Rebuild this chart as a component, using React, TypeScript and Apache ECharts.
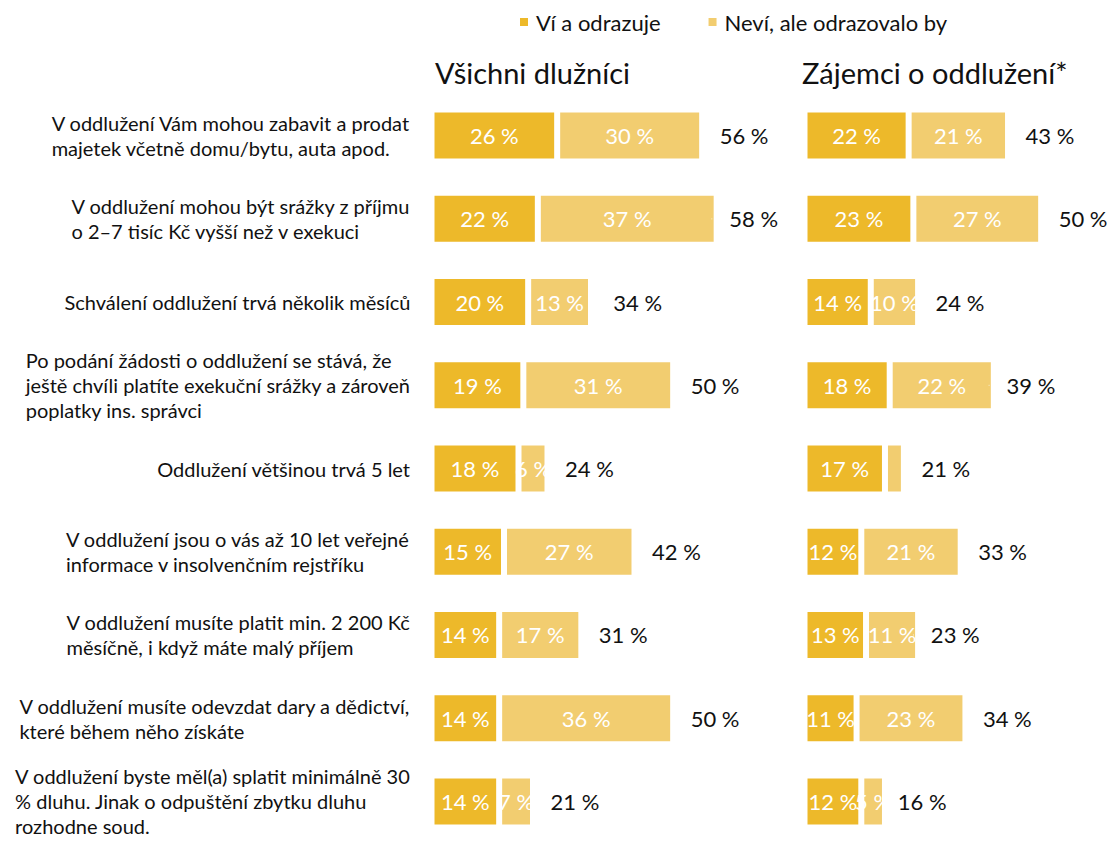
import React, { useEffect, useRef } from "react";
import * as echarts from "echarts";

const categories = [
  "V oddlužení Vám mohou zabavit a prodat\nmajetek včetně domu/bytu, auta apod.",
  "V oddlužení mohou být srážky z příjmu\no 2–7 tisíc Kč vyšší než v exekuci",
  "Schválení oddlužení trvá několik měsíců",
  "Po podání žádosti o oddlužení se stává, že\nještě chvíli platíte exekuční srážky a zároveň\npoplatky ins. správci",
  "Oddlužení většinou trvá 5 let",
  "V oddlužení jsou o vás až 10 let veřejné\ninformace v insolvenčním rejstříku",
  "V oddlužení musíte platit min. 2 200 Kč\nměsíčně, i když máte malý příjem",
  "V oddlužení musíte odevzdat dary a dědictví,\nkteré během něho získáte",
  "V oddlužení byste měl(a) splatit minimálně 30\n% dluhu. Jinak o odpuštění zbytku dluhu\nrozhodne soud.",
];

const seriesNames = ["Ví a odrazuje", "Neví, ale odrazovalo by"];
const panelTitles = ["Všichni dlužníci", "Zájemci o oddlužení*"];

const allKnow = [26, 22, 20, 19, 18, 15, 14, 14, 14];
const allWould = [30, 37, 13, 31, 6, 27, 17, 36, 7];
const allTotal = [56, 58, 34, 50, 24, 42, 31, 50, 21];

const intKnow = [22, 23, 14, 18, 17, 12, 13, 11, 12];
const intWould = [21, 27, 10, 22, 4, 21, 11, 23, 5];
const intTotal = [43, 50, 24, 39, 21, 33, 23, 34, 16];

const DARK = "#EDB92A";
const LIGHT = "#F2CD70";
const TEXT = "#111111";
const FONT = "Lato, 'Noto Sans', sans-serif";

export default function App() {
  const ref = useRef<HTMLDivElement>(null);

  useEffect(() => {
    if (!ref.current) return;
    const chart = echarts.init(ref.current, undefined, { renderer: "svg" });

    const barLabel = {
      show: true,
      position: "inside",
      color: "#FFFFFF",
      fontSize: 22,
      fontFamily: FONT,
      formatter: (p: any) => (p.value < 5 ? "" : p.value + " %"),
    };

    const barSeries = (name: string, data: number[], color: string, idx: number) => ({
      type: "bar",
      name,
      stack: "s" + idx,
      xAxisIndex: idx,
      yAxisIndex: idx,
      data,
      barWidth: 52,
      itemStyle: { color, borderColor: "#FFFFFF", borderWidth: 3 },
      label: barLabel,
      emphasis: { disabled: true },
    });

    const totalSeries = (data: number[], idx: number) => ({
      type: "scatter",
      xAxisIndex: idx,
      yAxisIndex: idx,
      data: data.map((v, i) => [v, i]),
      symbolSize: 1,
      itemStyle: { color: "#FFFFFF" },
      label: {
        show: true,
        position: "right",
        distance: 17,
        color: TEXT,
        opacity: 1,
        fontSize: 22,
        fontFamily: FONT,
        formatter: (p: any) => p.value[0] + " %",
      },
      emphasis: { disabled: true },
      silent: true,
    });

    const yAxisBase = {
      type: "category",
      data: categories,
      inverse: true,
      axisLine: { show: false },
      axisTick: { show: false },
      splitLine: { show: false },
    };

    const option: any = {
      animation: false,
      textStyle: { fontFamily: FONT },
      title: [
        {
          text: panelTitles[0],
          left: 430,
          top: 53,
          textStyle: { fontSize: 29, fontWeight: "normal", color: TEXT, fontFamily: FONT },
        },
        {
          text: panelTitles[1],
          left: 797,
          top: 53,
          textStyle: { fontSize: 29, fontWeight: "normal", color: TEXT, fontFamily: FONT },
        },
      ],
      legend: {
        data: seriesNames,
        left: 513,
        top: 6,
        icon: "rect",
        itemWidth: 10,
        itemHeight: 10,
        itemGap: 46,
        textStyle: { fontSize: 22, color: TEXT, fontFamily: FONT, padding: [0, 0, 0, 2] },
        selectedMode: false,
      },
      grid: [
        { left: 431.5, top: 94, width: 290, height: 756 },
        { left: 804.5, top: 94, width: 284, height: 756 },
      ],
      xAxis: [
        { type: "value", gridIndex: 0, min: 0, max: 60, show: false },
        { type: "value", gridIndex: 1, min: 0, max: 60, show: false },
      ],
      yAxis: [
        {
          ...yAxisBase,
          gridIndex: 0,
          axisLabel: {
            interval: 0,
            margin: 21,
            align: "right",
            formatter: (v: string) => "{a|" + v + "}",
            rich: {
              a: {
                align: "left",
                fontSize: 20,
                lineHeight: 25,
                color: TEXT,
                fontFamily: FONT,
              },
            },
          },
        },
        {
          ...yAxisBase,
          gridIndex: 1,
          axisLabel: { show: false },
        },
      ],
      series: [
        barSeries(seriesNames[0], allKnow, DARK, 0),
        barSeries(seriesNames[1], allWould, LIGHT, 0),
        totalSeries(allTotal, 0),
        barSeries(seriesNames[0], intKnow, DARK, 1),
        barSeries(seriesNames[1], intWould, LIGHT, 1),
        totalSeries(intTotal, 1),
      ],
    };

    chart.setOption(option);
    return () => chart.dispose();
  }, []);

  return (
    <div
      ref={ref}
      style={{ position: "absolute", left: 0, top: 0, width: 1107, height: 843, background: "#FFFFFF" }}
    />
  );
}
